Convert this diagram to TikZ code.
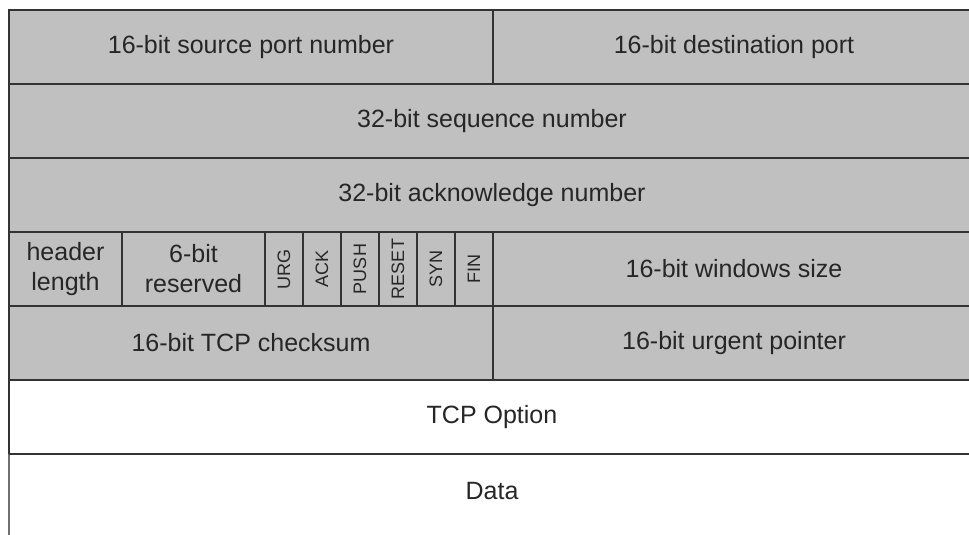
\documentclass[tikz,border=0pt]{standalone}
\usepackage{fontspec}
\setmainfont{Liberation Sans}
\usetikzlibrary{positioning}
\definecolor{hdrgray}{HTML}{C0C0C0}
\definecolor{rulecol}{HTML}{333333}

\begin{document}
\begin{tikzpicture}[
        x=1pt, y=1pt,
        cell/.style={rectangle, draw=rulecol, line width=2pt, fill=hdrgray, outer sep=0pt, inner sep=0pt,
            minimum height=74pt, text=black!85, align=center, font=\fontsize{25}{30}\selectfont},
        flag/.style={cell, minimum width=38pt, font=\fontsize{18}{20}\selectfont},
        plain/.style={cell, fill=white},
        edge/.style={draw=rulecol!70, line width=2pt}
    ]
        \clip (0,0) rectangle (969,-535);

        % Ports
        \node[cell, minimum width=484pt, anchor=north west] (src) at (9,-10) {16-bit source port number};
        \node[cell, minimum width=482pt, right=0pt of src] (dst) {16-bit destination port};

        % Sequence and acknowledge
        \node[cell, minimum width=966pt, below=0pt of src.south west, anchor=north west] (seq) {32-bit sequence number};
        \node[cell, minimum width=966pt, below=0pt of seq.south west, anchor=north west] (ack) {32-bit acknowledge number};

        % Length, reserved, flags, window
        \node[cell, minimum width=113pt, below=0pt of ack.south west, anchor=north west] (hlen) {header\\length};
        \node[cell, minimum width=143pt, right=0pt of hlen] (rsv) {6-bit\\reserved};
        \node[flag, right=0pt of rsv] (urg) {\rotatebox{90}{URG}};
        \node[flag, right=0pt of urg] (ackf) {\rotatebox{90}{ACK}};
        \node[flag, right=0pt of ackf] (psh) {\rotatebox{90}{PUSH}};
        \node[flag, right=0pt of psh] (rst) {\rotatebox{90}{RESET}};
        \node[flag, right=0pt of rst] (syn) {\rotatebox{90}{SYN}};
        \node[flag, right=0pt of syn] (fin) {\rotatebox{90}{FIN}};
        \node[cell, minimum width=482pt, right=0pt of fin] (win) {16-bit windows size};

        % Checksum and urgent pointer
        \node[cell, minimum width=484pt, below=0pt of hlen.south west, anchor=north west] (csum) {16-bit TCP checksum};
        \node[cell, minimum width=482pt, right=0pt of csum] (urgp) {16-bit urgent pointer};

        % Options and data
        \node[plain, minimum width=966pt, below=0pt of csum.south west, anchor=north west] (opt) {TCP Option};
        \node[plain, draw=none, minimum width=966pt, below=0pt of opt.south west, anchor=north west] (data) {Data};
        \draw[edge] (data.north west) -- ++(0,-100);
        \draw[draw=rulecol, line width=2pt] (opt.south west) -- (opt.south east);

    \end{tikzpicture}
\end{document}
